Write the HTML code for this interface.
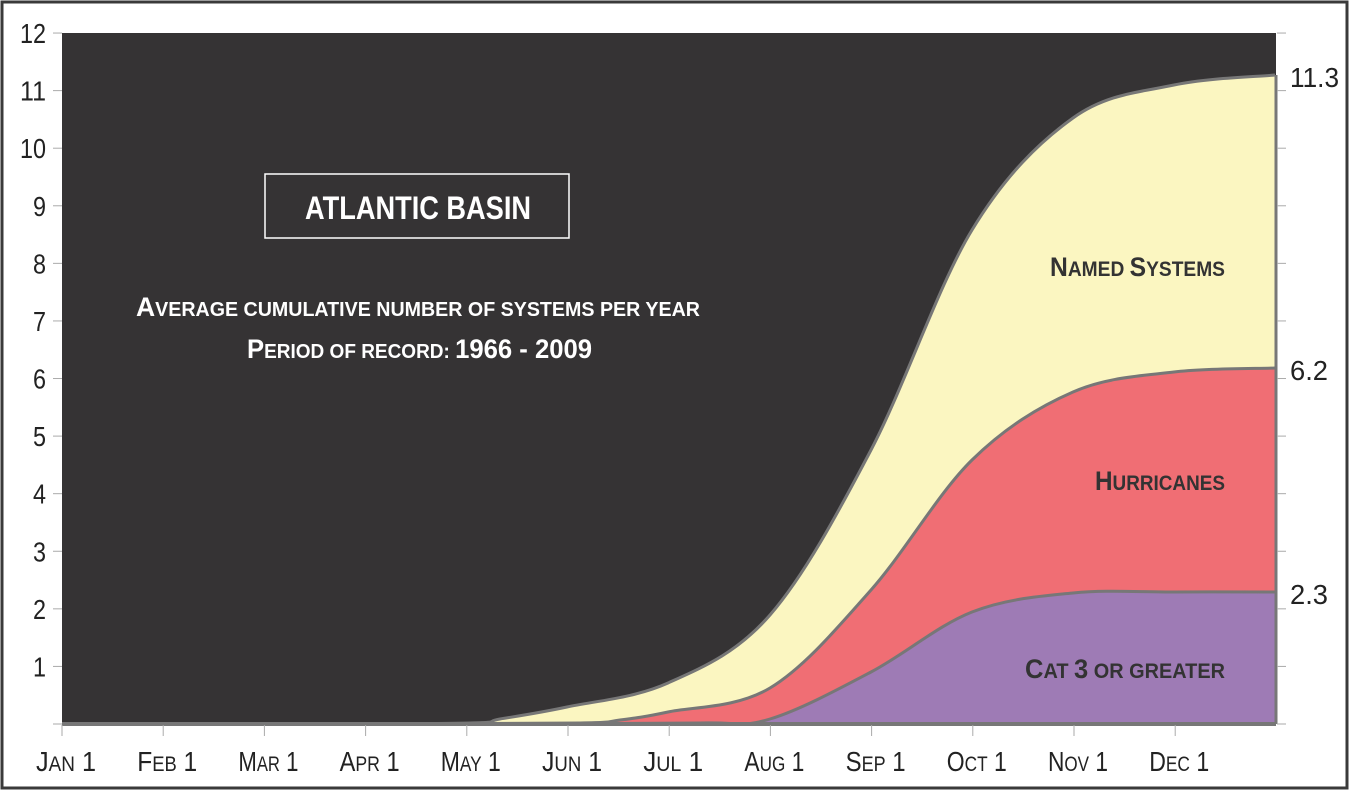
<!DOCTYPE html>
<html><head><meta charset="utf-8"><style>
html,body{margin:0;padding:0;background:#fff}
svg{display:block}
.n{font-family:"Liberation Sans",sans-serif}
</style></head><body>
<svg id="s" width="1350" height="791" viewBox="0 0 1350 791" xmlns="http://www.w3.org/2000/svg">
<rect x="2" y="2" width="1345" height="786" fill="#fff" stroke="#3a3a3a" stroke-width="3"/>
<rect x="62" y="33" width="1214" height="691" fill="#353334"/>
<path id="pY" fill="#fbf6c1" stroke="none"/>
<path id="pR" fill="#f06e74" stroke="none"/>
<path id="pP" fill="#9e7bb5" stroke="none"/>
<path id="lY" fill="none" stroke="#777" stroke-width="3"/>
<path id="lR" fill="none" stroke="#777" stroke-width="3"/>
<path id="lP" fill="none" stroke="#777" stroke-width="3"/>
<line x1="1276" y1="75" x2="1276" y2="724" stroke="#777" stroke-width="3"/>
<line x1="62" y1="724" x2="1276" y2="724" stroke="#777" stroke-width="4"/>
<g id="ticks" stroke="#aaa" stroke-width="1"></g>
<g id="lab" class="n" font-size="27" fill="#222"></g>
<rect x="265" y="174" width="304" height="64" fill="none" stroke="#fff" stroke-width="1.5"/>
<text x="305" y="219" textLength="226" lengthAdjust="spacingAndGlyphs" class="n" font-weight="bold" font-size="32" fill="#fff">ATLANTIC BASIN</text>
<text x="136" y="316" textLength="564" lengthAdjust="spacingAndGlyphs" class="n" font-weight="bold" font-size="27" fill="#fff">A<tspan font-size="20">VERAGE CUMULATIVE NUMBER OF SYSTEMS PER YEAR</tspan></text>
<text x="247" y="358" textLength="345" lengthAdjust="spacingAndGlyphs" class="n" font-weight="bold" font-size="27" fill="#fff">P<tspan font-size="20">ERIOD OF RECORD: </tspan>1966 - 2009</text>
<text x="1050" y="276" textLength="175" lengthAdjust="spacingAndGlyphs" class="n" font-weight="bold" font-size="27" fill="#333">N<tspan font-size="21">AMED </tspan>S<tspan font-size="21">YSTEMS</tspan></text>
<text x="1095" y="490" textLength="130" lengthAdjust="spacingAndGlyphs" class="n" font-weight="bold" font-size="27" fill="#333">H<tspan font-size="21">URRICANES</tspan></text>
<text x="1025" y="678" textLength="200" lengthAdjust="spacingAndGlyphs" class="n" font-weight="bold" font-size="27" fill="#333">C<tspan font-size="21">AT </tspan>3<tspan font-size="21"> OR GREATER</tspan></text>
<text x="1290" y="87" textLength="49" lengthAdjust="spacingAndGlyphs" class="n" font-size="28" fill="#222">11.3</text>
<text x="1290" y="380" textLength="38" lengthAdjust="spacingAndGlyphs" class="n" font-size="28" fill="#222">6.2</text>
<text x="1290" y="604" textLength="38" lengthAdjust="spacingAndGlyphs" class="n" font-size="28" fill="#222">2.3</text>
</svg>
<script>
function X(t){return 62+101.2*t}
function Y(v){return 724-57.58*v}
function smooth(pts){
 var d="M"+pts[0][0]+","+pts[0][1];
 for(var i=0;i<pts.length-1;i++){
  var p0=pts[i-1]||pts[i],p1=pts[i],p2=pts[i+1],p3=pts[i+2]||p2;
  var c1=[p1[0]+(p2[0]-p0[0])/6,p1[1]+(p2[1]-p0[1])/6];
  var c2=[p2[0]-(p3[0]-p1[0])/6,p2[1]-(p3[1]-p1[1])/6];
  d+=" C"+c1[0].toFixed(1)+","+c1[1].toFixed(1)+" "+c2[0].toFixed(1)+","+c2[1].toFixed(1)+" "+p2[0].toFixed(1)+","+p2[1].toFixed(1);
 }
 return d;
}
var Ypts=[[62,724],[300,724],[470,723],[500,719],[567,707],[668,683],[770,615],[871,450],[972,230],[1073,118],[1174,85],[1275,75]];
var Rpts=[[62,724],[400,724],[580,723],[620,720],[668,712],[770,688],[871,590],[972,460],[1073,392],[1174,372],[1275,368]];
var Ppts=[[62,724],[500,724],[700,723],[770,719],[871,672],[972,612],[1073,593],[1174,592],[1275,592]];
function set(id,pts){
 var d=smooth(pts);
 document.getElementById("l"+id).setAttribute("d",d);
 document.getElementById("p"+id).setAttribute("d",d+" L1276,724 L62,724 Z");
}
set("Y",Ypts);set("R",Rpts);set("P",Ppts);
var ns="http://www.w3.org/2000/svg",tk=document.getElementById("ticks"),lb=document.getElementById("lab");
function el(p,n,a,txt){var e=document.createElementNS(ns,n);for(var k in a)e.setAttribute(k,a[k]);if(txt!=null)e.innerHTML=txt;p.appendChild(e);return e;}
for(var v=0;v<=12;v++){
 var y=Y(v);
 el(tk,"line",{x1:53,y1:y,x2:62,y2:y});
 el(tk,"line",{x1:1277,y1:y,x2:1286,y2:y});
 if(v>0){var s=String(v);el(lb,"text",{x:46-s.length*13,y:y+10,textLength:s.length*13,lengthAdjust:"spacingAndGlyphs","font-size":28},s);}
}
var m=[["J","AN"],["F","EB"],["M","AR"],["A","PR"],["M","AY"],["J","UN"],["J","UL"],["A","UG"],["S","EP"],["O","CT"],["N","OV"],["D","EC"]];
for(var i=0;i<12;i++){
 var x=X(i);
 el(tk,"line",{x1:x,y1:725,x2:x,y2:736});
 var w=60;
 el(lb,"text",{x:x+4-w/2,y:771,textLength:w,lengthAdjust:"spacingAndGlyphs","font-size":28},m[i][0]+'<tspan font-size="21">'+m[i][1]+'</tspan> 1');
}
</script>
</body></html>
